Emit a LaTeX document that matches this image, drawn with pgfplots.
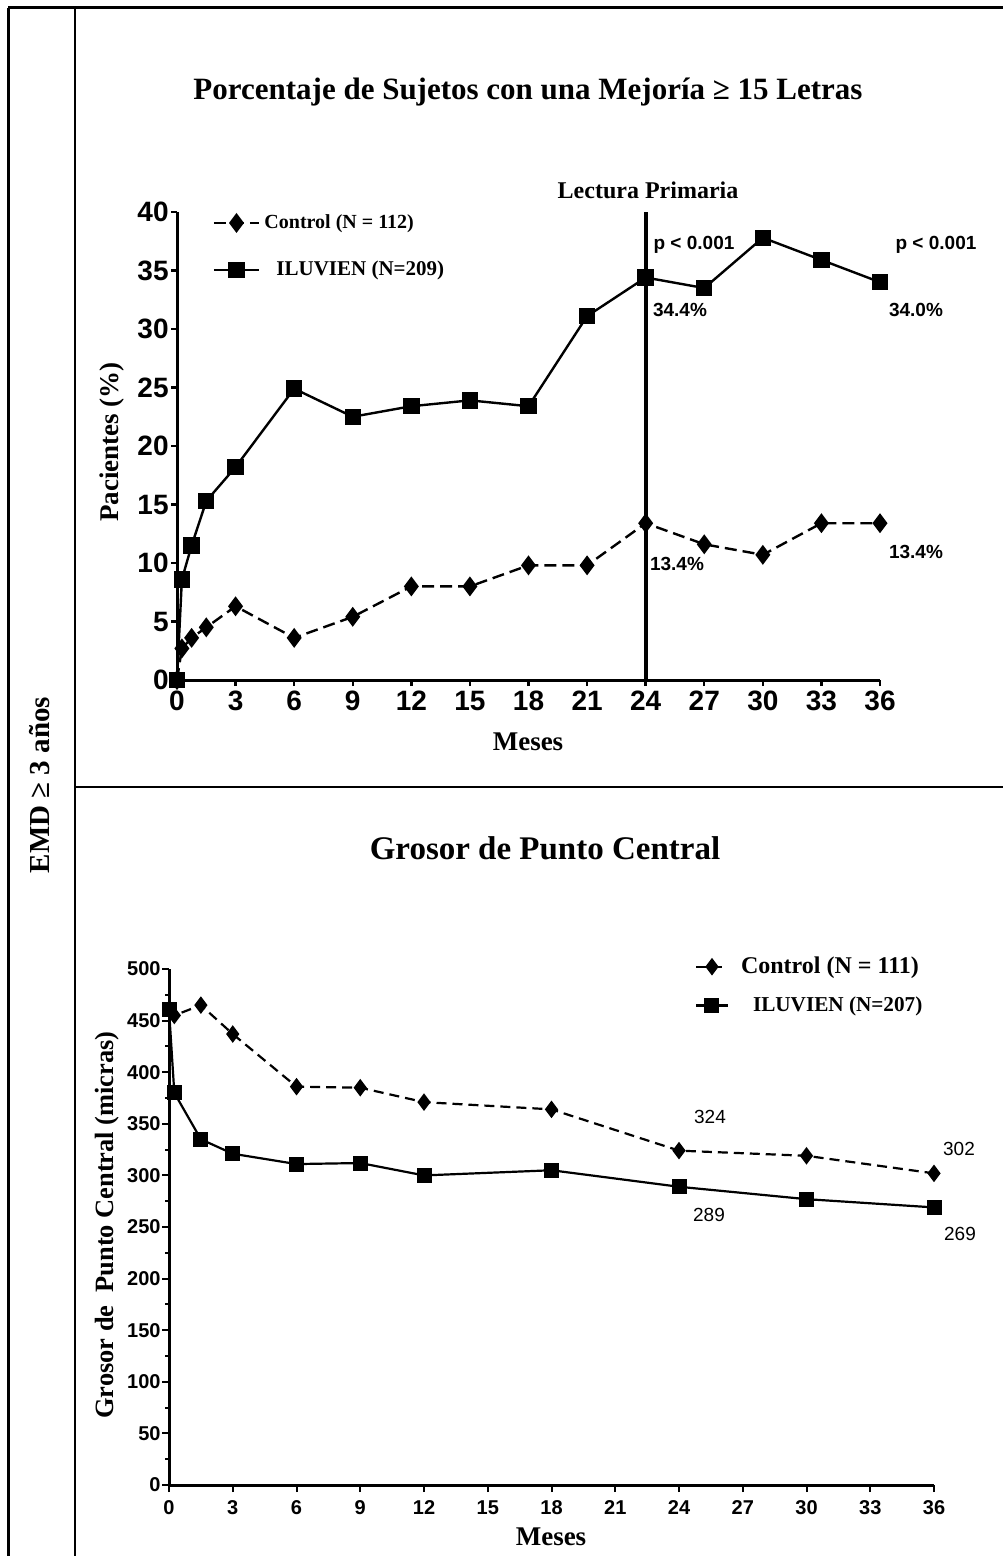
\documentclass[border=0pt]{standalone}
\usepackage{fontspec}
\setmainfont{Liberation Serif}
\setsansfont{Liberation Sans}
\usepackage{pgfplots}
\pgfplotsset{compat=1.18}
\begin{document}
\begin{tikzpicture}
\useasboundingbox (0,0) rectangle (501.5pt,-778pt);
\draw[line width=1.5pt] (4pt,-4pt) -- (501.5pt,-4pt);
\draw[line width=1.5pt] (4pt,-4pt) -- (4pt,-778pt);
\draw[line width=1.2pt] (37.5pt,-4pt) -- (37.5pt,-778pt);
\draw[line width=1pt] (37.5pt,-393.5pt) -- (501.5pt,-393.5pt);

% ---------- top axis ----------
\begin{axis}[
  at={(88.5pt,-340pt)}, anchor=south west,
  scale only axis, width=351.5pt, height=234pt,
  xmin=0, xmax=36, ymin=0, ymax=40,
  axis lines=left, axis line style={line width=1.5pt,-},
  xtick={0,3,...,36}, ytick={0,5,...,40},
  tick align=outside, major tick length=3pt,
  tick style={line width=1.2pt, black},
  tick label style={font=\fontsize{14}{14}\selectfont\sffamily\bfseries},
  yticklabel style={inner xsep=1pt},
  xticklabel style={yshift=-1pt, text height=0.75em, text depth=0pt},
  /pgf/number format/assume math mode=true,
  clip=false,
  legend style={draw=none, fill=none, at={(0.05,1.004)}, anchor=north west,
    row sep=11pt, inner sep=0pt, cells={anchor=west}},
  legend image code/.code={\draw[mark repeat=2,mark phase=2,#1] plot coordinates {(0cm,0cm) (0.4cm,0cm) (0.8cm,0cm)};},
]
\addplot[black, line width=1.2pt, dash pattern=on 6pt off 3pt, mark=diamond*, mark size=4pt, mark options={solid}]
coordinates {(0,0)(0.25,2.7)(0.75,3.6)(1.5,4.5)(3,6.3)(6,3.6)(9,5.4)(12,8.0)(15,8.0)(18,9.8)(21,9.8)(24,13.4)(27,11.6)(30,10.7)(33,13.4)(36,13.4)};
\addlegendentry{\fontsize{10}{12}\selectfont\bfseries Control (N = 112)}
\addplot[black, line width=1.2pt, mark=square*, mark size=3.5pt]
coordinates {(0,0)(0.25,8.6)(0.75,11.5)(1.5,15.3)(3,18.2)(6,24.9)(9,22.5)(12,23.4)(15,23.9)(18,23.4)(21,31.1)(24,34.4)(27,33.5)(30,37.8)(33,35.9)(36,34.0)};
\addlegendentry{\hspace{6pt}\fontsize{10.5}{12}\selectfont\bfseries ILUVIEN (N=209)}
\addplot[black, line width=2pt, no marks, forget plot] coordinates {(24,0)(24,40)};
\end{axis}

% ---------- bottom axis ----------
\begin{axis}[
  at={(84.5pt,-742.5pt)}, anchor=south west,
  scale only axis, width=382.5pt, height=258pt,
  xmin=0, xmax=36, ymin=0, ymax=500,
  axis lines=left, axis line style={line width=1.5pt,-},
  xtick={0,3,...,36}, ytick={0,50,...,500}, minor ytick={25,75,...,475},
  tick align=outside, major tick length=3.5pt, minor tick length=2pt,
  tick style={line width=1pt, black},
  tick label style={font=\fontsize{10}{10}\selectfont\sffamily\bfseries},
  yticklabel style={inner xsep=0.5pt},
  xticklabel style={text height=0.75em, text depth=0pt},
  /pgf/number format/assume math mode=true,
  clip=false,
  legend style={draw=none, fill=none, at={(0.687,1.032)}, anchor=north west,
    row sep=6pt, inner sep=0pt, cells={anchor=west}},
  legend image code/.code={\draw[mark repeat=2,mark phase=2,#1] plot coordinates {(0cm,0cm) (0.28cm,0cm) (0.56cm,0cm)};},
]
\addplot[black, line width=1.1pt, dash pattern=on 5pt off 3pt, mark=diamond*, mark size=3.5pt, mark options={solid}]
coordinates {(0,461)(0.25,455)(1.5,465)(3,437)(6,386)(9,385)(12,371)(18,364)(24,324)(30,319)(36,302)};
\addlegendentry{\hspace{4pt}\fontsize{12}{14}\selectfont\bfseries Control (N = 111)}
\addplot[black, line width=1.1pt, mark=square*, mark size=3.2pt]
coordinates {(0,461)(0.25,380)(1.5,335)(3,321)(6,311)(9,312)(12,300)(18,305)(24,289)(30,277)(36,269)};
\addlegendentry{\hspace{10pt}\fontsize{10.6}{13}\selectfont\bfseries ILUVIEN (N=207)}
\end{axis}

% ---------- texts ----------
\node[font=\fontsize{15.5}{18}\selectfont\bfseries] at (264pt,-46pt) {Porcentaje de Sujetos con una Mejoría ≥ 15 Letras};
\node[font=\fontsize{12}{14}\selectfont\bfseries] at (324pt,-95pt) {Lectura Primaria};
\node[font=\fontsize{9.5}{11}\selectfont\sffamily\bfseries] at (347pt,-122.5pt) {p < 0.001};
\node[font=\fontsize{9.5}{11}\selectfont\sffamily\bfseries] at (468pt,-122.5pt) {p < 0.001};
\node[font=\fontsize{9.5}{11}\selectfont\sffamily\bfseries] at (340pt,-155pt) {34.4\%};
\node[font=\fontsize{9.5}{11}\selectfont\sffamily\bfseries] at (458pt,-155pt) {34.0\%};
\node[font=\fontsize{9.5}{11}\selectfont\sffamily\bfseries] at (338.5pt,-282pt) {13.4\%};
\node[font=\fontsize{9.5}{11}\selectfont\sffamily\bfseries] at (458pt,-276pt) {13.4\%};
\node[font=\fontsize{13.5}{15}\selectfont\bfseries, rotate=90] at (56pt,-221pt) {Pacientes (\%)};
\node[font=\fontsize{13.5}{15}\selectfont\bfseries] at (264pt,-371pt) {Meses};

\node[font=\fontsize{16.5}{19}\selectfont\bfseries] at (272.5pt,-424pt) {Grosor de Punto Central};
\node[font=\fontsize{9.5}{11}\selectfont\sffamily] at (355pt,-558.5pt) {324};
\node[font=\fontsize{9.5}{11}\selectfont\sffamily] at (354.5pt,-607.5pt) {289};
\node[font=\fontsize{9.5}{11}\selectfont\sffamily] at (479.5pt,-574.5pt) {302};
\node[font=\fontsize{9.5}{11}\selectfont\sffamily] at (480pt,-617pt) {269};
\node[font=\fontsize{13.2}{15}\selectfont\bfseries, rotate=90] at (53.5pt,-612.5pt) {Grosor de\ \ Punto Central (micras)};
\node[font=\fontsize{13.5}{15}\selectfont\bfseries] at (275.5pt,-768.5pt) {Meses};

\node[font=\fontsize{14.5}{16}\selectfont\bfseries, rotate=90] at (20pt,-392.5pt) {EMD ≥ 3 años};
\end{tikzpicture}
\end{document}
